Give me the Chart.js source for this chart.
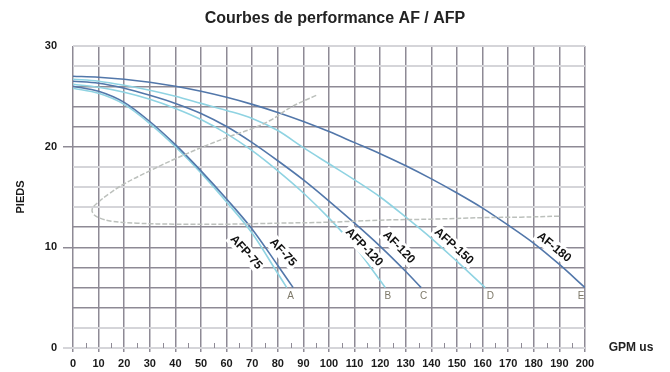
<!DOCTYPE html>
<html>
<head>
<meta charset="utf-8">
<script src="https://cdn.jsdelivr.net/npm/chart.js@4"></script>
<style>
  html, body { margin: 0; padding: 0; background: #fff; }
  #wrap { width: 670px; height: 372px; }
</style>
</head>
<body>
<div id="wrap"><canvas id="perfChart" width="670" height="372"></canvas></div>
<script>
// courbes (GPM us -> pieds)
const gpmAF75 = [0, 10, 20, 30, 40, 50, 60, 70, 80, 86];
const headAF75 = [26.0, 25.5, 24.4, 22.5, 20.2, 17.6, 14.8, 11.8, 8.2, 6.0];

const gpmAFP75 = [0, 10, 20, 30, 40, 50, 60, 70, 80, 83.5];
const headAFP75 = [25.8, 25.3, 24.2, 22.3, 20.0, 17.4, 14.5, 11.4, 7.4, 6.0];

const gpmAF120 = [0, 10, 20, 30, 40, 50, 60, 70, 80, 90, 100, 110, 120, 130, 136];
const headAF120 = [26.5, 26.3, 25.8, 25.1, 24.3, 23.3, 22.0, 20.4, 18.6, 16.7, 14.6, 12.4, 10.1, 7.6, 6.0];

const gpmAFP120 = [0, 10, 20, 30, 40, 50, 60, 70, 80, 90, 100, 110, 120, 122];
const headAFP120 = [26.2, 25.9, 25.4, 24.7, 23.8, 22.7, 21.3, 19.6, 17.6, 15.4, 12.9, 10.1, 6.7, 6.0];

const gpmAFP150 = [0, 10, 20, 30, 40, 50, 60, 70, 80, 90, 100, 110, 120, 130, 140, 150, 161];
const headAFP150 = [26.7, 26.5, 26.1, 25.6, 25.0, 24.3, 23.6, 22.8, 21.6, 19.9, 18.3, 16.7, 15.0, 13.0, 10.9, 8.6, 6.0];

const gpmAF180 = [0, 10, 20, 30, 40, 50, 60, 70, 80, 90, 100, 110, 120, 130, 140, 150, 160, 170, 180, 190, 200];
const headAF180 = [27.0, 26.9, 26.7, 26.4, 26.0, 25.5, 24.9, 24.2, 23.4, 22.5, 21.5, 20.4, 19.3, 18.1, 16.8, 15.4, 13.9, 12.2, 10.4, 8.3, 6.0];

// courbe grise (boucle)
const loopGpm = [95, 85, 77, 70, 60, 50, 40, 30, 20, 14, 9.5, 7.5, 8, 10.5, 15, 25, 40, 60, 80, 100, 120, 140, 160, 175, 190];
const loopHead = [25.1, 23.9, 22.6, 21.8, 20.9, 19.9, 18.8, 17.6, 16.3, 15.3, 14.4, 13.8, 13.3, 12.9, 12.6, 12.4, 12.3, 12.3, 12.4, 12.5, 12.7, 12.8, 12.95, 13.0, 13.1];

// étiquettes des courbes
const curveNames = ["AFP-75", "AF-75", "AFP-120", "AF-120", "AFP-150", "AF-180"];
const labelGpm = [67.6, 82.0, 113.7, 127.3, 148.8, 187.9];
const labelHead = [9.5, 9.5, 10.0, 10.0, 10.1, 10.0];
const labelAngle = [48, 47, 46, 46, 42, 39];

const endLetters = ["A", "B", "C", "D", "E"];
const letterGpm = [85, 123, 137, 163, 198.5];
const letterHead = [5.1, 5.1, 5.1, 5.1, 5.1];

const darkHeads = [4, 6, 8, 10, 12, 20, 22, 24, 26];

const FONT = "'Liberation Sans', Arial, sans-serif";
const darkGrid = "#8e8a95";
const lightGrid = "#d5d5d9";
const afColor = "#5277aa";
const afpColor = "#8fd3e2";
const clear = "rgba(0,0,0,0)";

function toPoints(xs, ys) {
  return xs.map((x, i) => ({ x, y: ys[i] }));
}

function curve(label, xs, ys, color) {
  return {
    label,
    data: toPoints(xs, ys),
    borderColor: color,
    borderWidth: 1.6,
    showLine: true,
    pointRadius: 0,
    cubicInterpolationMode: "monotone",
    fill: false,
  };
}

const overlayPlugin = {
  id: "overlay",
  afterDatasetsDraw(chart) {
    const { ctx } = chart;
    const { x, y } = chart.scales;
    ctx.save();

    // petites graduations tous les 5 GPM
    ctx.strokeStyle = darkGrid;
    ctx.lineWidth = 1;
    for (let v = 5; v < 200; v += 10) {
      const px = Math.round(x.getPixelForValue(v)) + 0.5;
      ctx.beginPath();
      ctx.moveTo(px, y.bottom - 5);
      ctx.lineTo(px, y.bottom);
      ctx.stroke();
    }

    // noms des pompes
    ctx.font = "bold 12px " + FONT;
    ctx.textAlign = "center";
    ctx.textBaseline = "middle";
    curveNames.forEach((name, i) => {
      const px = x.getPixelForValue(labelGpm[i]);
      const py = y.getPixelForValue(labelHead[i]);
      ctx.save();
      ctx.translate(px, py);
      ctx.rotate((labelAngle[i] * Math.PI) / 180);
      const w = ctx.measureText(name).width + 4;
      ctx.fillStyle = "#fff";
      ctx.fillRect(-w / 2, -7.5, w, 15);
      ctx.fillStyle = "#111";
      ctx.fillText(name, 0, 0);
      ctx.restore();
    });

    // lettres A..E
    ctx.font = "10px " + FONT;
    ctx.fillStyle = "#7d7868";
    endLetters.forEach((letter, i) => {
      ctx.fillText(letter, x.getPixelForValue(letterGpm[i]), y.getPixelForValue(letterHead[i]));
    });
    ctx.restore();
  },
  afterDraw(chart) {
    const { ctx } = chart;
    ctx.save();
    ctx.fillStyle = "#222";
    ctx.textAlign = "center";
    ctx.textBaseline = "middle";
    ctx.font = "bold 16px " + FONT;
    ctx.fillText("Courbes de performance AF / AFP", 335, 19);
    ctx.font = "bold 12px " + FONT;
    ctx.fillText("GPM us", 631, 348);
    ctx.restore();
  },
};

new Chart(document.getElementById("perfChart"), {
  type: "scatter",
  plugins: [overlayPlugin],
  data: {
    datasets: [
      {
        label: "boucle",
        data: toPoints(loopGpm, loopHead),
        borderColor: "#bcc0bc",
        borderWidth: 1.5,
        borderDash: [5, 2],
        showLine: true,
        pointRadius: 0,
        tension: 0.4,
        fill: false,
      },
      curve("AF-180", gpmAF180, headAF180, afColor),
      curve("AFP-150", gpmAFP150, headAFP150, afpColor),
      curve("AF-120", gpmAF120, headAF120, afColor),
      curve("AFP-120", gpmAFP120, headAFP120, afpColor),
      curve("AF-75", gpmAF75, headAF75, afColor),
      curve("AFP-75", gpmAFP75, headAFP75, afpColor),
    ],
  },
  options: {
    responsive: false,
    animation: false,
    layout: { padding: { left: 0, right: 85, top: 46, bottom: 0 } },
    plugins: {
      legend: { display: false },
      tooltip: { enabled: false },
    },
    scales: {
      x: {
        type: "linear",
        min: 0,
        max: 200,
        border: { display: false },
        ticks: {
          stepSize: 5,
          autoSkip: false,
          maxRotation: 0,
          padding: 5,
          color: "#1a1a1a",
          font: { family: FONT, size: 11, weight: "bold" },
          callback: (v) => (v % 10 === 0 ? v : ""),
        },
        grid: {
          color: (c) => (c.tick.value % 10 === 0 ? darkGrid : clear),
          lineWidth: 1.5,
          drawTicks: true,
          tickLength: 4,
          tickColor: (c) => (c.tick.value % 10 === 0 ? darkGrid : clear),
        },
        afterFit: (s) => {
          s.height = 24;
        },
      },
      y: {
        min: 0,
        max: 30,
        border: { display: false },
        ticks: {
          stepSize: 2,
          autoSkip: false,
          padding: 6,
          color: "#1a1a1a",
          font: { family: FONT, size: 11, weight: "bold" },
          callback: (v) => (v % 10 === 0 ? v : ""),
        },
        grid: {
          color: (c) => (darkHeads.includes(c.tick.value) ? darkGrid : lightGrid),
          lineWidth: (c) => (darkHeads.includes(c.tick.value) ? 1.5 : 2),
          drawTicks: true,
          tickLength: 10,
          tickColor: (c) => {
            const v = c.tick.value;
            if (v === 10 || v === 20) return darkGrid;
            if (v === 0) return lightGrid;
            return clear;
          },
        },
        title: {
          display: true,
          text: "PIEDS",
          color: "#1a1a1a",
          font: { family: FONT, size: 11, weight: "bold" },
          padding: { top: 14, bottom: 0 },
        },
        afterFit: (s) => {
          s.width = 73;
        },
      },
    },
  },
});
</script>
</body>
</html>
